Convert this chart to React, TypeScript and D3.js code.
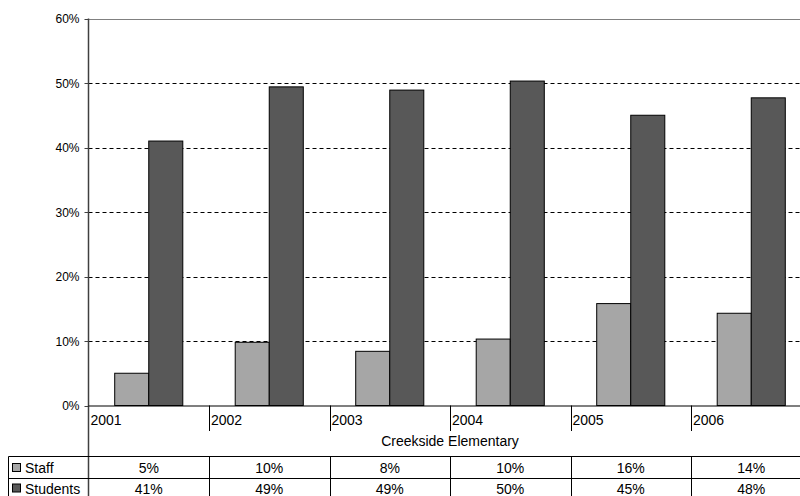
import React from "react";
import * as d3 from "d3";

const years = ["2001", "2002", "2003", "2004", "2005", "2006"];
const seriesNames = ["Staff", "Students"];
const staffValues = [5.0, 9.8, 8.4, 10.3, 15.8, 14.3];
const studentValues = [41.0, 49.4, 48.9, 50.3, 45.0, 47.7];
const staffLabels = ["5%", "10%", "8%", "10%", "16%", "14%"];
const studentLabels = ["41%", "49%", "49%", "50%", "45%", "48%"];
const yTicks = [0, 10, 20, 30, 40, 50, 60];
const groupTitle = "Creekside Elementary";
const colors = ["#a6a6a6", "#585858"];

const W = 800;
const H = 496;
const left = 88.5;
const right = 811.5;
const top = 18.5;
const bottom = 405.5;
const font = "'Liberation Sans', Arial, sans-serif";

export default function App() {
  const x = d3.scaleBand<string>().domain(years).range([left, right]).padding(0);
  const bw = x.bandwidth();
  const inner = d3
    .scaleBand<string>()
    .domain(seriesNames)
    .range([bw * 0.2175, bw * 0.7825])
    .padding(0);
  const y = d3.scaleLinear().domain([0, 60]).range([bottom, top]);
  const series = [staffValues, studentValues];
  const labels = [staffLabels, studentLabels];
  const rowTop = [456.5, 478.5];
  const baselines = [473, 493.5];

  return (
    <svg
      width={W}
      height={H}
      style={{ position: "absolute", left: 0, top: 0, background: "#fff" }}
      fontFamily={font}
    >
      <rect x={0} y={0} width={W} height={H} fill="#fff" />
      {/* gridlines */}
      {yTicks.map((t) =>
        t === 0 ? null : (
          <line
            key={"g" + t}
            x1={left}
            x2={right}
            y1={Math.round(y(t)) + 0.5}
            y2={Math.round(y(t)) + 0.5}
            stroke={t === 60 ? "#808080" : "#000"}
            strokeWidth={1}
            strokeDasharray={t === 60 ? undefined : "4,3"}
          />
        )
      )}
      {/* bars */}
      {years.map((yr, i) => (
        <g key={yr}>
          {series.map((vals, s) => (
            <rect
              key={s}
              x={(x(yr) as number) + (inner(seriesNames[s]) as number)}
              y={y(vals[i])}
              width={inner.bandwidth()}
              height={bottom - y(vals[i])}
              fill={colors[s]}
              stroke="#000"
              strokeWidth={1}
            />
          ))}
        </g>
      ))}
      {/* y axis */}
      <line x1={left} x2={left} y1={top} y2={H} stroke="#404040" strokeWidth={1.5} />
      {yTicks.map((t) => (
        <g key={"t" + t}>
          <line
            x1={left - 4}
            x2={left}
            y1={Math.round(y(t)) + 0.5}
            y2={Math.round(y(t)) + 0.5}
            stroke="#404040"
          />
          <text
            x={left - 9}
            y={y(t) + 4.5}
            textAnchor="end"
            fontSize={12}
            fill="#000"
          >
            {t}%
          </text>
        </g>
      ))}
      {/* baseline */}
      <line x1={left} x2={right} y1={bottom + 0.5} y2={bottom + 0.5} stroke="#000" strokeWidth={1.2} />
      {/* category separators & labels */}
      {years.map((yr, i) => (
        <g key={"c" + yr}>
          {i > 0 && (
            <line
              x1={Math.round(x(yr) as number) + 0.5}
              x2={Math.round(x(yr) as number) + 0.5}
              y1={bottom}
              y2={431}
              stroke="#000"
            />
          )}
          <text x={(x(yr) as number) + 2} y={425} fontSize={14} fill="#000">
            {yr}
          </text>
        </g>
      ))}
      <text x={(left + right) / 2} y={446} textAnchor="middle" fontSize={14} fill="#000">
        {groupTitle}
      </text>
      {/* data table */}
      <line x1={8.5} x2={right} y1={rowTop[0]} y2={rowTop[0]} stroke="#000" />
      <line x1={8.5} x2={right} y1={rowTop[1]} y2={rowTop[1]} stroke="#000" />
      <line x1={8.5} x2={8.5} y1={rowTop[0]} y2={H} stroke="#000" />
      {years.map((yr, i) =>
        i > 0 ? (
          <line
            key={"tv" + yr}
            x1={Math.round(x(yr) as number) + 0.5}
            x2={Math.round(x(yr) as number) + 0.5}
            y1={rowTop[0]}
            y2={H}
            stroke="#000"
          />
        ) : null
      )}
      {seriesNames.map((name, s) => (
        <g key={"row" + name}>
          <rect
            x={12.5}
            y={baselines[s] - 9.5}
            width={8}
            height={8}
            fill={colors[s]}
            stroke="#000"
            strokeWidth={1}
          />
          <text x={25} y={baselines[s]} fontSize={14} fill="#000">
            {name}
          </text>
          {years.map((yr, i) => (
            <text
              key={yr}
              x={(x(yr) as number) + bw / 2}
              y={baselines[s]}
              textAnchor="middle"
              fontSize={14}
              fill="#000"
            >
              {labels[s][i]}
            </text>
          ))}
        </g>
      ))}
    </svg>
  );
}
